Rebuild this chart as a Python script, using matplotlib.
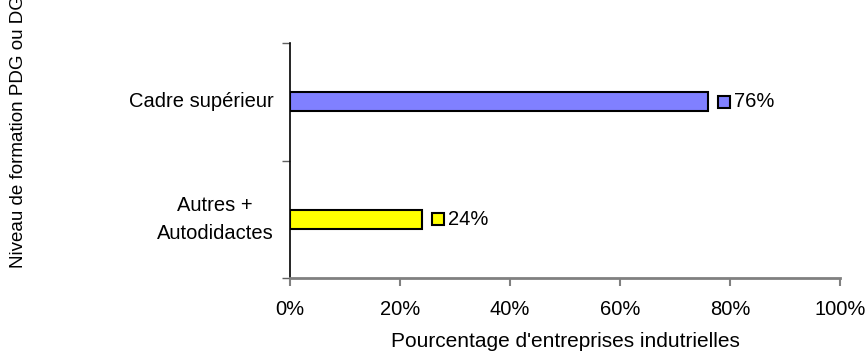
import matplotlib
matplotlib.use('Agg')
import matplotlib.pyplot as plt
import matplotlib.transforms as mtransforms

categories = ["Autres +\nAutodidactes", "Cadre supérieur"]
values = [24, 76]
colors = ["#FFFF00", "#8080FF"]
x_ticks = [0, 20, 40, 60, 80, 100]
x_tick_labels = ["0%", "20%", "40%", "60%", "80%", "100%"]

plt.rcParams['font.family'] = ['Liberation Sans', 'DejaVu Sans']
plt.rcParams['font.size'] = 14.5

fig = plt.figure(figsize=(8.66, 3.56), dpi=100)
ax = fig.add_axes([290 / 866, 1 - 278 / 356, 550 / 866, 235 / 356])

ypos = list(range(len(categories)))
ax.barh(ypos, values, height=0.16, color=colors, edgecolor="black", linewidth=1.5, zorder=3)

# value labels with a small legend key square
sq_tr = mtransforms.offset_copy(ax.transData, fig=fig, x=16, y=0, units='dots')
txt_tr = mtransforms.offset_copy(ax.transData, fig=fig, x=26, y=0, units='dots')
for y, v, c in zip(ypos, values, colors):
    ax.plot([v], [y], marker='s', ms=8, mfc=c, mec='black', mew=1.5,
            transform=sq_tr, clip_on=False, zorder=4)
    ax.text(v, y, f"{v}%", transform=txt_tr, va='center', ha='left', fontsize=14.5)

ax.set_xlim(0, 100)
ax.set_ylim(-0.5, 1.5)
ax.set_xticks(x_ticks)
ax.set_xticklabels(x_tick_labels)
ax.set_yticks([-0.5, 0.5, 1.5])
ax.set_yticklabels([])
ax.tick_params(axis='y', length=6, color='#606060', width=1)
ax.tick_params(axis='x', length=6, color='#808080', width=1.5, pad=10, labelsize=14.5)

for y, lab in zip(ypos, categories):
    ax.text(-0.03, y, lab, transform=ax.get_yaxis_transform(), ha='right', va='center',
            multialignment='center', linespacing=1.6, fontsize=14.5)

ax.spines['top'].set_visible(False)
ax.spines['right'].set_visible(False)
ax.spines['left'].set_color('black')
ax.spines['left'].set_linewidth(1.2)
ax.spines['bottom'].set_color('#808080')
ax.spines['bottom'].set_linewidth(2)

ax.set_xlabel("Pourcentage d'entreprises indutrielles", labelpad=9, fontsize=15)
fig.text(19 / 866, 1 - 268 / 356, "Niveau de formation PDG ou DG", rotation=90,
         ha='center', va='bottom', fontsize=13.5)

fig.savefig("out.png", dpi=100)
